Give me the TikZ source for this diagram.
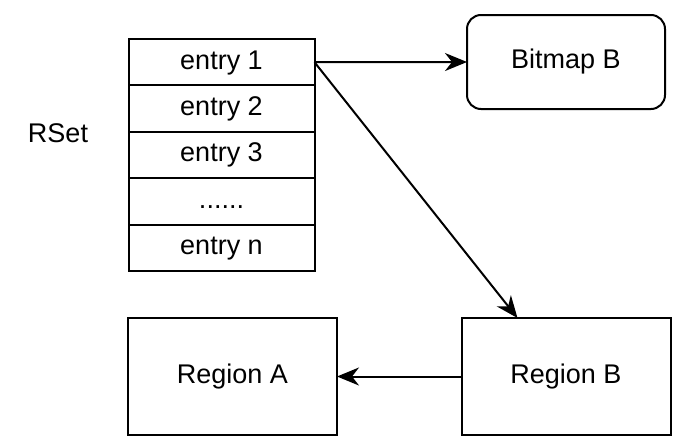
\documentclass[tikz,border=0pt]{standalone}
\usepackage{fontspec}
\setmainfont{Liberation Sans}
\usetikzlibrary{arrows.meta}
\begin{document}
\begin{tikzpicture}[x=1pt,y=-1pt,
  every node/.style={font=\fontsize{27}{32}\selectfont},
  row/.style={draw,line width=2pt,minimum width=186pt,minimum height=46.4pt,inner sep=0pt,outer sep=0pt,text height=19.5pt,text depth=5.7pt},
  box/.style={draw,line width=2pt,minimum width=209pt,minimum height=117pt,inner sep=0pt,outer sep=0pt},
  rbox/.style={draw,line width=2pt,rounded corners=14pt,minimum width=198pt,minimum height=94pt,inner sep=0pt,outer sep=0pt},
  conn/.style={line width=2pt,-{Stealth[length=22pt,width=18pt,inset=7pt]}}]
\useasboundingbox (0,0) rectangle (683,447);
\node (rset) at (58,133) {RSet};
\node[row] (e1) at (221.5,62.2) {entry 1};
\node[row] (e2) at (221.5,108.6) {entry 2};
\node[row] (e3) at (221.5,155.0) {entry 3};
\node[row] (e4) at (221.5,201.4) {......};
\node[row] (e5) at (221.5,247.8) {entry n};
\node[rbox] (bm) at (566,62) {Bitmap B};
\node[box] (ra) at (232.5,376.5) {Region A};
\node[box] (rb) at (566,376.5) {Region B};
\draw[conn] (e1.east) -- (bm.west);
\draw[conn] (e1.east) -- ([xshift=56pt]rb.north west);
\draw[conn] (rb.west) -- (ra.east);
\end{tikzpicture}
\end{document}
